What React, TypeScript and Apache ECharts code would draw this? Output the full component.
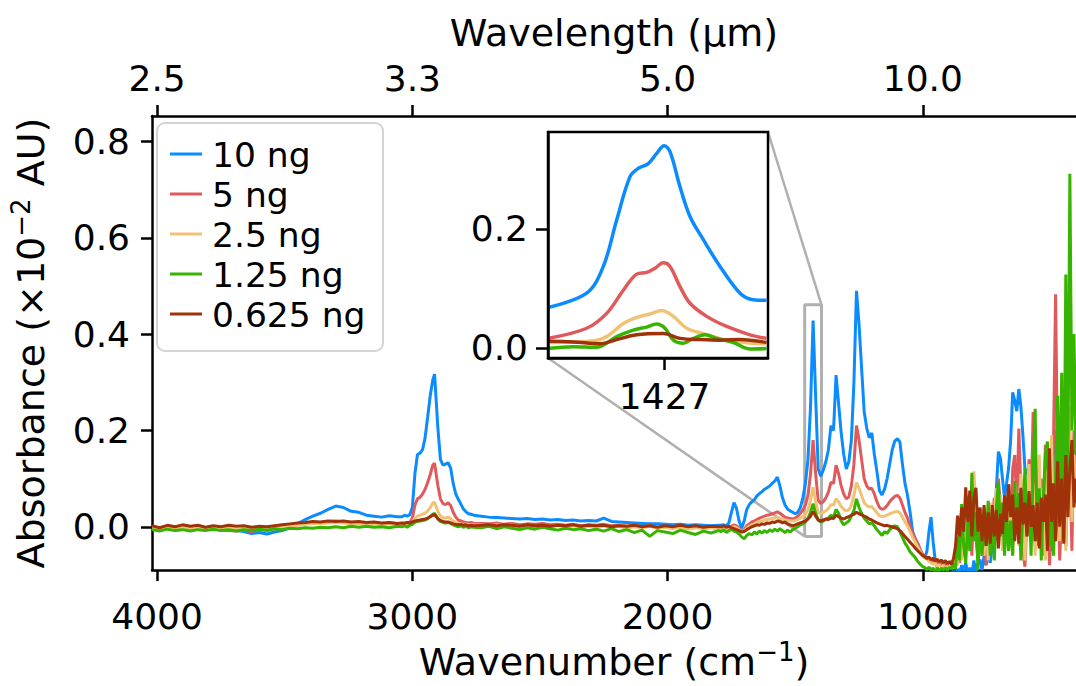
import React, { useEffect, useRef } from "react";
import * as echarts from "echarts";

const FONT = "'DejaVu Sans', 'Liberation Sans', sans-serif";

// Sampling grid (cm^-1)
const wavenumbers = [
  // A
  4020, 3990, 3960, 3930, 3900, 3870, 3840, 3810, 3780, 3750,
  3720, 3690, 3660, 3630, 3600, 3570, 3540, 3510, 3480, 3450,
  3420, 3390, 3360, 3330, 3300, 3270, 3240, 3210, 3180, 3150,
  3120, 3090, 3060,
  // B
  3040, 3030, 3020, 3010, 3000, 2990, 2980, 2970, 2960, 2950,
  2940, 2930, 2920, 2913, 2900, 2890, 2880, 2870, 2860, 2850,
  2840, 2830, 2820, 2810, 2800, 2790, 2780, 2770, 2760,
  // C
  2730, 2700, 2670, 2640, 2610, 2580, 2550, 2520, 2490, 2460,
  2430, 2400, 2370, 2340, 2310, 2280, 2250, 2220, 2190, 2160,
  2130, 2100, 2070, 2040, 2010, 1980, 1950, 1920, 1890, 1860,
  1830, 1800,
  // D
  1790, 1780, 1770, 1760, 1750, 1740, 1730, 1720, 1710, 1700,
  1690, 1680, 1670, 1660, 1650, 1640, 1630, 1620, 1610, 1600,
  1590, 1580, 1570, 1560, 1550, 1540, 1530, 1520, 1510, 1500,
  1490, 1480, 1470, 1460, 1450, 1440, 1430, 1420, 1410, 1400,
  1390, 1380, 1370, 1360, 1350, 1340, 1330, 1320, 1310, 1300,
  1290, 1280, 1270, 1260, 1250, 1240, 1230, 1220, 1210, 1200,
  1190, 1180, 1170, 1160, 1150, 1140, 1130, 1120, 1110, 1100,
  1090, 1080, 1070, 1060, 1050, 1040, 1030, 1020, 1010, 1000,
  // E
  992, 984, 976, 968, 960, 952, 944, 936, 928, 920,
  912, 904, 896, 888, 880, 872, 864, 856, 848, 840,
  832, 824, 816, 808, 800, 792, 784, 776, 768, 760,
  752, 744, 736, 728, 720, 712, 704, 696, 688, 680,
  672, 664, 656, 648, 640, 632, 624, 616, 608, 600,
  592, 584, 576, 568, 560, 552, 544, 536, 528, 520,
  512, 504, 496, 488, 480, 472, 464, 456, 448, 440,
  432, 424, 416, 408, 400,
];

const absorbance10ng = [
  0.000, -0.004, 0.002, -0.003, -0.002, -0.004, 0.000, -0.003, -0.005, -0.004,
  -0.006, -0.008, -0.010, -0.014, -0.012, -0.015, -0.011, -0.008, -0.002, 0.006,
  0.015, 0.022, 0.028, 0.036, 0.043, 0.040, 0.032, 0.030, 0.024, 0.022,
  0.020, 0.023, 0.021,
  0.021, 0.024, 0.022, 0.025, 0.040, 0.110, 0.150, 0.153, 0.160, 0.185,
  0.228, 0.272, 0.305, 0.317, 0.205, 0.140, 0.128, 0.130, 0.133, 0.122,
  0.090, 0.068, 0.057, 0.047, 0.037, 0.031, 0.027, 0.026, 0.024,
  0.022, 0.020, 0.019, 0.018, 0.017, 0.016, 0.017, 0.015, 0.016, 0.014,
  0.015, 0.013, 0.014, 0.012, 0.013, 0.012, 0.018, 0.011, 0.010, 0.009,
  0.008, 0.007, 0.006, 0.006, 0.005, 0.004, 0.005, 0.003, 0.004, 0.003,
  0.002, 0.003,
  0.003, 0.004, 0.002, 0.008, 0.030, 0.050, 0.038, 0.012, -0.003, 0.012,
  0.036, 0.046, 0.052, 0.056, 0.064, 0.069, 0.073, 0.078, 0.081, 0.085,
  0.090, 0.095, 0.103, 0.085, 0.060, 0.045, 0.037, 0.033, 0.030, 0.027,
  0.030, 0.040, 0.060, 0.090, 0.140, 0.250, 0.428, 0.270, 0.120, 0.105,
  0.118, 0.135, 0.160, 0.210, 0.200, 0.315, 0.255, 0.195, 0.150, 0.120,
  0.135, 0.180, 0.300, 0.490, 0.420, 0.330, 0.240, 0.205, 0.185, 0.195,
  0.150, 0.115, 0.075, 0.066, 0.078, 0.100, 0.130, 0.160, 0.178, 0.183,
  0.176, 0.130, 0.090, 0.065, 0.030, -0.010, -0.025, -0.035, -0.048, -0.060,
  -0.065, -0.050, -0.010, 0.020, -0.030, -0.068, -0.085, -0.095, -0.100, -0.098,
  -0.100, -0.095, -0.105, -0.098, -0.092, -0.100, -0.088, -0.095, -0.080, -0.092,
  -0.075, -0.098, -0.085, -0.100, -0.070, -0.095, -0.075, -0.068, -0.090, -0.060,
  -0.080, -0.050, -0.075, -0.040, -0.020, 0.080, 0.156, 0.142, 0.100, 0.060,
  0.090, 0.122, 0.180, 0.279, 0.262, 0.240, 0.286, 0.250, 0.190, 0.120,
  0.112, 0.100, 0.060, 0.000, -0.040, 0.030, 0.110, 0.050, -0.020, 0.080,
  0.170, 0.060, -0.050, 0.120, 0.200, 0.040, -0.030, 0.150, 0.090, -0.040,
  0.110, 0.180, 0.020, 0.120, 0.050,
];

const absorbance5ng = [
  -0.004, -0.006, -0.002, -0.004, -0.003, -0.005, -0.002, -0.006, -0.004, -0.007,
  -0.008, -0.009, -0.007, -0.010, -0.006, -0.008, -0.004, -0.002, 0.001, 0.004,
  0.006, 0.008, 0.009, 0.011, 0.012, 0.010, 0.009, 0.008, 0.007, 0.008,
  0.006, 0.008, 0.007,
  0.007, 0.008, 0.007, 0.009, 0.018, 0.045, 0.058, 0.061, 0.068, 0.078,
  0.092, 0.108, 0.128, 0.132, 0.085, 0.058, 0.048, 0.046, 0.050, 0.044,
  0.030, 0.020, 0.014, 0.012, 0.010, 0.009, 0.008, 0.009, 0.007,
  0.007, 0.006, 0.008, 0.005, 0.007, 0.004, 0.006, 0.005, 0.007, 0.004,
  0.005, 0.003, 0.005, 0.002, 0.004, 0.003, 0.005, 0.002, 0.003, 0.001,
  0.003, 0.000, 0.002, -0.001, 0.001, -0.002, 0.000, -0.002, 0.000, -0.003,
  -0.001, -0.002,
  -0.002, 0.000, -0.003, -0.001, 0.001, 0.004, 0.002, -0.004, -0.010, -0.006,
  0.002, 0.006, 0.010, 0.012, 0.015, 0.018, 0.020, 0.022, 0.024, 0.025,
  0.027, 0.029, 0.031, 0.028, 0.024, 0.020, 0.018, 0.017, 0.016, 0.018,
  0.022, 0.028, 0.035, 0.045, 0.065, 0.110, 0.180, 0.110, 0.055, 0.048,
  0.052, 0.060, 0.072, 0.092, 0.090, 0.128, 0.110, 0.085, 0.068, 0.058,
  0.062, 0.085, 0.130, 0.210, 0.180, 0.140, 0.100, 0.085, 0.078, 0.080,
  0.068, 0.052, 0.040, 0.036, 0.038, 0.044, 0.052, 0.058, 0.063, 0.065,
  0.060, 0.045, 0.030, 0.018, 0.000, -0.015, -0.025, -0.035, -0.048, -0.058,
  -0.060, -0.064, -0.066, -0.071, -0.070, -0.075, -0.073, -0.079, -0.076, -0.081,
  -0.078, -0.084, -0.080, -0.086, -0.070, -0.085, -0.040, -0.075, 0.010, -0.060,
  0.050, -0.040, 0.040, -0.060, 0.060, -0.020, -0.070, 0.030, -0.060, 0.020,
  -0.080, 0.040, -0.050, 0.010, 0.060, -0.030, 0.100, 0.040, -0.040, 0.060,
  -0.010, 0.088, -0.020, 0.120, 0.149, 0.040, 0.204, 0.080, -0.050, -0.083,
  0.020, 0.140, 0.030, 0.238, 0.120, -0.040, 0.033, 0.100, -0.060, 0.170,
  0.060, -0.080, 0.000, 0.180, 0.483, 0.120, -0.070, 0.030, 0.150, 0.272,
  0.060, 0.136, -0.050, 0.200, 0.080,
];

const absorbance2p5ng = [
  -0.002, -0.004, -0.001, -0.003, -0.001, -0.004, -0.002, -0.003, -0.002, -0.004,
  -0.003, -0.005, -0.004, -0.006, -0.003, -0.005, -0.002, 0.000, 0.002, 0.003,
  0.005, 0.006, 0.007, 0.008, 0.009, 0.008, 0.006, 0.007, 0.005, 0.006,
  0.004, 0.006, 0.005,
  0.005, 0.006, 0.004, 0.006, 0.010, 0.018, 0.022, 0.024, 0.026, 0.028,
  0.033, 0.040, 0.049, 0.051, 0.032, 0.022, 0.019, 0.018, 0.020, 0.017,
  0.012, 0.009, 0.007, 0.006, 0.005, 0.006, 0.004, 0.005, 0.004,
  0.004, 0.002, 0.005, 0.001, 0.004, 0.000, 0.003, -0.004, 0.002, 0.000,
  0.003, -0.001, 0.002, 0.000, 0.001, -0.002, 0.002, -0.001, 0.001, -0.003,
  0.000, -0.002, 0.001, -0.003, -0.001, -0.004, -0.001, -0.005, -0.002, -0.004,
  -0.002, -0.005,
  -0.004, -0.002, -0.005, -0.003, -0.002, 0.000, -0.002, -0.006, -0.012, -0.009,
  -0.003, 0.001, 0.004, 0.006, 0.009, 0.011, 0.012, 0.014, 0.015, 0.016,
  0.017, 0.018, 0.019, 0.018, 0.016, 0.014, 0.013, 0.012, 0.012, 0.013,
  0.015, 0.018, 0.021, 0.026, 0.035, 0.055, 0.082, 0.052, 0.030, 0.027,
  0.030, 0.033, 0.038, 0.046, 0.045, 0.058, 0.052, 0.042, 0.036, 0.033,
  0.035, 0.045, 0.065, 0.092, 0.080, 0.065, 0.050, 0.044, 0.041, 0.042,
  0.036, 0.029, 0.023, 0.021, 0.022, 0.024, 0.027, 0.029, 0.031, 0.032,
  0.029, 0.020, 0.010, 0.002, -0.010, -0.022, -0.032, -0.042, -0.052, -0.062,
  -0.064, -0.068, -0.072, -0.075, -0.078, -0.076, -0.082, -0.079, -0.084, -0.080,
  -0.086, -0.082, -0.088, -0.070, -0.085, -0.060, -0.080, -0.030, -0.070, 0.020,
  -0.040, 0.060, -0.020, 0.090, 0.115, 0.030, -0.055, -0.030, 0.040, -0.060,
  0.020, -0.070, 0.050, -0.020, 0.030, 0.080, 0.020, 0.067, -0.050, 0.040,
  -0.030, 0.070, 0.010, -0.060, 0.090, 0.030, -0.040, 0.110, 0.020, -0.070,
  0.060, 0.130, -0.030, 0.090, -0.060, 0.050, 0.150, -0.020, 0.080, -0.070,
  0.120, 0.020, 0.190, -0.040, 0.100, 0.220, -0.030, 0.080, 0.170, -0.050,
  0.140, 0.250, 0.010, 0.150, 0.060,
];

const absorbance1p25ng = [
  -0.006, -0.009, -0.005, -0.008, -0.006, -0.009, -0.006, -0.008, -0.005, -0.008,
  -0.006, -0.009, -0.006, -0.008, -0.005, -0.007, -0.004, -0.006, -0.003, -0.004,
  -0.002, -0.003, -0.001, -0.002, 0.000, -0.002, 0.001, -0.001, 0.001, -0.001,
  0.000, -0.002, 0.001,
  0.000, 0.002, -0.001, 0.003, 0.005, 0.009, 0.011, 0.012, 0.013, 0.014,
  0.017, 0.021, 0.026, 0.028, 0.016, 0.011, 0.009, 0.008, 0.009, 0.007,
  0.004, 0.002, 0.000, 0.002, -0.001, 0.001, -0.002, 0.000, -0.001,
  -0.002, 0.001, -0.004, 0.000, -0.003, -0.006, -0.002, -0.005, -0.001, -0.004,
  -0.007, -0.003, -0.006, -0.004, -0.008, -0.005, -0.009, -0.004, -0.010, -0.006,
  -0.012, -0.007, -0.020, -0.008, -0.011, -0.014, -0.007, -0.012, -0.016, -0.009,
  -0.013, -0.008,
  -0.010, -0.006, -0.012, -0.008, -0.005, -0.009, -0.011, -0.015, -0.021, -0.025,
  -0.018, -0.014, -0.017, -0.011, -0.015, -0.009, -0.013, -0.008, -0.012, -0.006,
  -0.010, -0.005, -0.009, -0.004, -0.008, -0.012, -0.007, -0.011, -0.006, -0.003,
  0.000, 0.004, 0.006, 0.010, 0.018, 0.030, 0.048, 0.028, 0.014, 0.010,
  0.012, 0.016, 0.018, 0.024, 0.020, 0.036, 0.028, 0.012, 0.004, 0.008,
  0.012, 0.022, 0.034, 0.058, 0.040, 0.028, 0.018, 0.012, 0.006, 0.008,
  0.002, -0.006, -0.012, -0.018, -0.010, -0.014, -0.006, -0.002, 0.002, 0.000,
  -0.010, -0.022, -0.034, -0.042, -0.052, -0.058, -0.064, -0.072, -0.078, -0.083,
  -0.085, -0.089, -0.084, -0.090, -0.086, -0.092, -0.087, -0.091, -0.086, -0.090,
  -0.085, -0.091, -0.084, -0.089, -0.075, -0.088, -0.020, -0.070, 0.047, -0.040,
  -0.075, 0.010, -0.050, 0.112, -0.030, 0.030, -0.090, 0.020, -0.060, 0.013,
  -0.040, 0.054, -0.060, 0.030, -0.070, 0.040, 0.095, -0.020, 0.050, -0.060,
  0.030, -0.050, 0.013, -0.060, 0.095, -0.010, 0.070, -0.070, 0.030, 0.122,
  -0.020, 0.067, -0.060, 0.120, 0.245, -0.030, 0.080, -0.070, 0.060, 0.150,
  0.177, -0.040, 0.090, -0.060, 0.100, 0.272, 0.050, 0.320, -0.030, 0.524,
  0.100, 0.733, 0.200, 0.400, 0.150,
];

const absorbance0p625ng = [
  0.002, -0.002, 0.003, 0.000, 0.004, 0.001, 0.003, -0.001, 0.002, 0.000,
  0.003, 0.001, 0.002, -0.001, 0.001, 0.000, 0.002, 0.004, 0.006, 0.008,
  0.009, 0.011, 0.010, 0.012, 0.011, 0.012, 0.010, 0.011, 0.009, 0.010,
  0.008, 0.009, 0.007,
  0.008, 0.007, 0.009, 0.008, 0.010, 0.012, 0.013, 0.014, 0.015, 0.016,
  0.018, 0.021, 0.024, 0.025, 0.017, 0.013, 0.011, 0.010, 0.010, 0.008,
  0.006, 0.005, 0.004, 0.005, 0.003, 0.004, 0.002, 0.003, 0.002,
  0.003, 0.004, 0.002, 0.004, 0.003, 0.001, 0.004, 0.002, 0.003, 0.001,
  0.003, 0.002, 0.004, 0.001, 0.003, 0.002, 0.003, 0.000, 0.002, 0.001,
  0.003, 0.000, 0.002, -0.001, 0.002, 0.000, 0.003, 0.000, 0.002, -0.001,
  0.001, 0.000,
  0.000, 0.002, -0.001, 0.001, -0.002, -0.004, -0.006, -0.008, -0.011, -0.010,
  -0.006, -0.003, 0.000, 0.002, 0.004, 0.003, 0.006, 0.005, 0.008, 0.007,
  0.010, 0.009, 0.012, 0.011, 0.008, 0.010, 0.006, 0.004, 0.002, 0.004,
  0.006, 0.008, 0.010, 0.012, 0.016, 0.022, 0.032, 0.022, 0.014, 0.012,
  0.014, 0.016, 0.015, 0.018, 0.017, 0.024, 0.021, 0.018, 0.016, 0.019,
  0.021, 0.024, 0.026, 0.030, 0.027, 0.025, 0.022, 0.020, 0.016, 0.014,
  0.011, 0.008, 0.006, 0.004, 0.002, 0.003, 0.001, 0.000, -0.002, -0.004,
  -0.008, -0.014, -0.020, -0.026, -0.032, -0.038, -0.044, -0.050, -0.055, -0.060,
  -0.062, -0.066, -0.063, -0.069, -0.065, -0.071, -0.067, -0.073, -0.069, -0.075,
  -0.070, -0.077, -0.072, -0.078, -0.066, -0.040, 0.023, -0.020, 0.040, -0.010,
  0.082, 0.010, 0.075, -0.020, 0.060, 0.081, -0.010, 0.040, -0.030, 0.045,
  -0.040, 0.030, -0.035, 0.045, -0.020, 0.035, -0.045, 0.027, -0.015, 0.065,
  0.010, 0.088, 0.020, 0.067, -0.030, 0.040, -0.035, 0.081, 0.005, 0.050,
  -0.020, 0.074, 0.000, 0.045, -0.030, 0.050, -0.045, 0.060, 0.010, 0.067,
  -0.050, 0.163, 0.010, 0.090, -0.030, 0.136, 0.000, 0.100, -0.035, 0.149,
  0.020, 0.120, 0.180, 0.040, 0.100,
];

// Inset (zoom around 1427 cm^-1): [wavenumber, absorbance]
const inset10ng = [
  [1462, 0.068], [1450.4, 0.092], [1445.4, 0.137], [1441.4, 0.215], [1437.4, 0.288],
  [1434.9, 0.302], [1431.9, 0.31], [1429.4, 0.327], [1427.2, 0.34], [1425.4, 0.33],
  [1422.4, 0.271], [1419.4, 0.221], [1415.4, 0.182], [1410.4, 0.137], [1404.4, 0.092],
  [1400.4, 0.081], [1396.4, 0.08],
];
const inset5ng = [
  [1462, 0.016], [1450.4, 0.033], [1444.4, 0.058], [1439.4, 0.097], [1435.4, 0.124],
  [1432.4, 0.127], [1429.9, 0.134], [1427.4, 0.143], [1425.4, 0.137], [1422.4, 0.103],
  [1419.4, 0.075], [1414.4, 0.053], [1408.4, 0.036], [1401.4, 0.022], [1396.4, 0.016],
];
const inset2p5ng = [
  [1462, 0.009], [1449.4, 0.011], [1444.4, 0.019], [1439.4, 0.041], [1434.4, 0.053],
  [1431.4, 0.057], [1427.9, 0.063], [1424.4, 0.053], [1420.4, 0.033], [1415.4, 0.024],
  [1408.4, 0.013], [1401.4, 0.008], [1396.4, 0.007],
];
const inset1p25ng = [
  [1462, -0.001], [1454.4, 0.002], [1447.4, 0.001], [1441.4, 0.019], [1436.4, 0.03],
  [1432.4, 0.035], [1429.4, 0.04], [1426.9, 0.033], [1424.4, 0.013], [1421.4, 0.008],
  [1418.4, 0.016], [1414.9, 0.022], [1411.4, 0.016], [1406.4, 0.009], [1401.4, -0.002],
  [1396.4, -0.001],
];
const inset0p625ng = [
  [1462, 0.011], [1454.4, 0.01], [1446.4, 0.007], [1441.4, 0.014], [1435.4, 0.022],
  [1427.4, 0.024], [1422.4, 0.016], [1416.4, 0.014], [1410.4, 0.013], [1404.4, 0.014],
  [1396.4, 0.009],
];

const seriesNames = ["10 ng", "5 ng", "2.5 ng", "1.25 ng", "0.625 ng"];
const seriesColors = ["#0a8cff", "#e05a5c", "#f0c274", "#36b400", "#a0320a"];

const xTicks = [4000, 3000, 2000, 1000];
const yTicks = [0, 0.2, 0.4, 0.6, 0.8];
const insetXTicks = [1427];
const insetYTicks = [0, 0.2];

// zoom box in main data coords
const zoomBoxX = [1463, 1397];
const zoomBoxY = [-0.02, 0.461];

export default function App() {
  const ref = useRef<HTMLDivElement>(null);
  useEffect(() => {
    const el = ref.current;
    if (!el) return;
    const chart = echarts.init(el, null, { renderer: "svg" });

    const mainValues = [absorbance10ng, absorbance5ng, absorbance2p5ng, absorbance1p25ng, absorbance0p625ng];
    const insetValues = [inset10ng, inset5ng, inset2p5ng, inset1p25ng, inset0p625ng];

    const axisLine = { show: true, onZero: false, lineStyle: { color: "#000", width: 2.5 } };
    const axisTickBase = { show: true, length: 11, inside: false, lineStyle: { color: "#000", width: 2.5 } };
    const labelBase = { color: "#000", fontSize: 36, fontFamily: FONT };
    const nameRich = {
      a: { fontSize: 38, fontFamily: FONT, color: "#000", lineHeight: 46 },
      s: { fontSize: 26, fontFamily: FONT, color: "#000", verticalAlign: "top", lineHeight: 46 },
    };

    const series: any[] = [];
    mainValues.forEach((vals, i) => {
      series.push({
        type: "line",
        name: seriesNames[i],
        xAxisIndex: 0,
        yAxisIndex: 0,
        data: wavenumbers.map((w, j) => [w, vals[j]]),
        symbol: "none",
        showSymbol: false,
        lineStyle: { color: seriesColors[i], width: 3 },
        itemStyle: { color: seriesColors[i] },
        emphasis: { disabled: true },
        clip: true,
        z: 3,
      });
    });
    series.push({
      type: "line",
      name: "zoom box",
      xAxisIndex: 0,
      yAxisIndex: 0,
      data: [
        [zoomBoxX[0], zoomBoxY[0]],
        [zoomBoxX[1], zoomBoxY[0]],
        [zoomBoxX[1], zoomBoxY[1]],
        [zoomBoxX[0], zoomBoxY[1]],
        [zoomBoxX[0], zoomBoxY[0]],
      ],
      symbol: "none",
      lineStyle: { color: "#b0b0b0", width: 3 },
      emphasis: { disabled: true },
      z: 2,
    });
    insetValues.forEach((vals, i) => {
      series.push({
        type: "line",
        name: seriesNames[i] + " (inset)",
        xAxisIndex: 2,
        yAxisIndex: 1,
        data: vals,
        smooth: 0.35,
        symbol: "none",
        lineStyle: { color: seriesColors[i], width: 3.5 },
        emphasis: { disabled: true },
        clip: true,
        z: 5,
      });
    });

    const option: any = {
      animation: false,
      textStyle: { fontFamily: FONT },
      grid: [
        { left: 150, top: 116, width: 930, height: 460, containLabel: false },
        {
          left: 548, top: 132, width: 220, height: 226, show: true,
          borderColor: "#000", borderWidth: 2.5, backgroundColor: "#fff", z: 4,
        },
      ],
      xAxis: [
        {
          type: "value", gridIndex: 0, position: "bottom", min: 400, max: 4020, inverse: true,
          axisLine, axisTick: { ...axisTickBase, customValues: xTicks },
          axisLabel: { ...labelBase, margin: 28, customValues: xTicks, formatter: (v: number) => String(v) },
          splitLine: { show: false },
          name: "{a|Wavenumber (cm}{s|−1}{a|)}", nameLocation: "middle", nameGap: 62,
          nameTextStyle: { rich: nameRich },
        },
        {
          type: "value", gridIndex: 0, position: "top", min: 400, max: 4020, inverse: true,
          axisLine, axisTick: { ...axisTickBase, customValues: xTicks },
          axisLabel: { ...labelBase, margin: 20, customValues: xTicks, formatter: (v: number) => (10000 / v).toFixed(1) },
          splitLine: { show: false },
          name: "Wavelength (μm)", nameLocation: "middle", nameGap: 64,
          nameTextStyle: { ...labelBase, fontSize: 38 },
        },
        {
          type: "value", gridIndex: 1, position: "bottom", min: 1396, max: 1462, inverse: true,
          axisLine, axisTick: { ...axisTickBase, length: 12, customValues: insetXTicks },
          axisLabel: { ...labelBase, margin: 20, customValues: insetXTicks, formatter: (v: number) => String(v) },
          splitLine: { show: false },
          z: 6,
        },
      ],
      yAxis: [
        {
          type: "value", gridIndex: 0, min: -0.09, max: 0.853,
          axisLine, axisTick: { ...axisTickBase, customValues: yTicks },
          axisLabel: { ...labelBase, margin: 22, customValues: yTicks, formatter: (v: number) => v.toFixed(1) },
          splitLine: { show: false },
          name: "{a|Absorbance (×10}{s|−2}{a| AU)}", nameLocation: "middle", nameGap: 98, nameRotate: 90,
          nameTextStyle: { rich: nameRich },
        },
        {
          type: "value", gridIndex: 1, min: -0.017, max: 0.363,
          axisLine, axisTick: { ...axisTickBase, length: 12, customValues: insetYTicks },
          axisLabel: { ...labelBase, margin: 20, customValues: insetYTicks, formatter: (v: number) => v.toFixed(1) },
          splitLine: { show: false },
          z: 6,
        },
      ],
      series,
    };
    chart.setOption(option);

    const boxTR = chart.convertToPixel({ gridIndex: 0 }, [zoomBoxX[1], zoomBoxY[1]]) as number[];
    const boxBL = chart.convertToPixel({ gridIndex: 0 }, [zoomBoxX[0], zoomBoxY[0]]) as number[];
    const insTR = chart.convertToPixel({ gridIndex: 1 }, [1396, 0.363]) as number[];
    const insBL = chart.convertToPixel({ gridIndex: 1 }, [1462, -0.017]) as number[];

    const legendRowY = [154, 194, 234, 274, 314];
    const graphics: any[] = [
      {
        type: "line", z: 1, silent: true,
        shape: { x1: insTR[0], y1: insTR[1], x2: boxTR[0], y2: boxTR[1] },
        style: { stroke: "#b0b0b0", lineWidth: 2.5 },
      },
      {
        type: "line", z: 1, silent: true,
        shape: { x1: insBL[0], y1: insBL[1], x2: boxBL[0], y2: boxBL[1] },
        style: { stroke: "#b0b0b0", lineWidth: 2.5 },
      },
      {
        type: "rect", z: 10, silent: true,
        shape: { x: 157, y: 123, width: 226, height: 228, r: 8 },
        style: { fill: "rgba(255,255,255,0.85)", stroke: "#d4d4d4", lineWidth: 2 },
      },
    ];
    seriesNames.forEach((n, i) => {
      graphics.push({
        type: "line", z: 11, silent: true,
        shape: { x1: 170, y1: legendRowY[i], x2: 202, y2: legendRowY[i] },
        style: { stroke: seriesColors[i], lineWidth: 3 },
      });
      graphics.push({
        type: "text", z: 11, silent: true, x: 212, y: legendRowY[i] + 1,
        style: { text: n, fill: "#000", fontSize: 34.5, fontFamily: FONT, textVerticalAlign: "middle", textAlign: "left" },
      });
    });
    const bad = mainValues.map((v) => v.length).filter((l) => l !== wavenumbers.length);
    if (bad.length) {
      graphics.push({ type: "text", x: 400, y: 300, z: 50, style: { text: "LEN " + wavenumbers.length + " vs " + mainValues.map((v) => v.length).join(","), fontSize: 30, fill: "red" } });
    }
    chart.setOption({ graphic: graphics });

    return () => chart.dispose();
  }, []);

  return <div ref={ref} style={{ position: "fixed", left: 0, top: 0, width: 1076, height: 686, background: "#fff" }} />;
}
